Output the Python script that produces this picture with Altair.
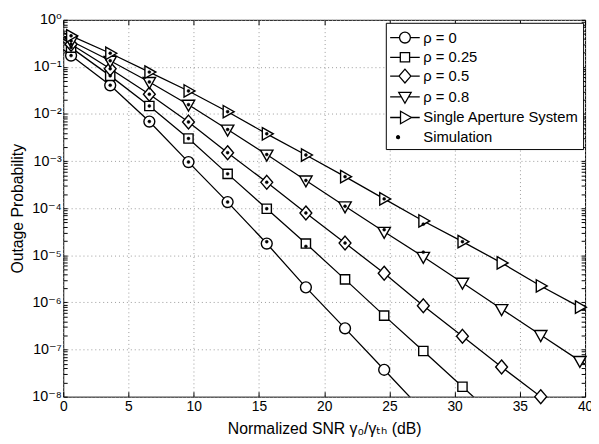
import altair as alt
import pandas as pd

# ---------------- data ----------------
snr_db = [0, 0.6, 3.6, 6.6, 9.6, 12.6, 15.6, 18.6, 21.6, 24.6, 27.6, 30.6, 33.6, 36.6, 39.6, 40]
series_names = ["ρ = 0", "ρ = 0.25", "ρ = 0.5", "ρ = 0.8", "Single Aperture System"]

p_rho0 = [0.234, 0.174, 0.0407, 6.92e-3, 9.55e-4, 1.35e-4, 1.78e-5, 2.09e-6, 2.82e-7, 3.72e-8,
          4.90e-9, None, None, None, None, None]
p_rho025 = [0.339, 0.257, 0.0646, 0.0148, 3.02e-3, 5.37e-4, 9.77e-5, 1.78e-5, 3.09e-6, 5.25e-7,
            9.33e-8, 1.62e-8, 2.82e-9, None, None, None]
p_rho05 = [0.389, 0.302, 0.0912, 0.0263, 6.76e-3, 1.51e-3, 3.55e-4, 7.94e-5, 1.82e-5, 4.17e-6,
           8.51e-7, 1.91e-7, 4.27e-8, 1.0e-8, None, None]
p_rho08 = [0.427, 0.355, 0.135, 0.0479, 0.0158, 4.68e-3, 1.38e-3, 3.89e-4, 1.10e-4, 3.16e-5,
           9.33e-6, 2.63e-6, 7.24e-7, 2.04e-7, 5.75e-8, 4.90e-8]
p_single = [0.537, 0.457, 0.195, 0.0776, 0.0309, 0.0112, 3.80e-3, 1.35e-3, 4.68e-4, 1.58e-4,
            5.37e-5, 1.95e-5, 6.92e-6, 2.24e-6, 7.94e-7, 6.92e-7]

# simulation points (same SNR grid, None = no simulation point)
sim_rho0 = [None, 0.174, 0.0407, 6.92e-3, 9.55e-4, 1.35e-4, 1.95e-5, None, None, None,
            None, None, None, None, None, None]
sim_rho025 = [None, 0.257, 0.0646, 0.0148, 3.02e-3, 5.37e-4, 9.77e-5, 1.55e-5, None, None,
              None, None, None, None, None, None]
sim_rho05 = [None, 0.302, 0.0912, 0.0263, 6.76e-3, 1.51e-3, 3.55e-4, 7.94e-5, 1.82e-5, None,
             None, None, None, None, None, None]
sim_rho08 = [None, 0.355, 0.135, 0.0479, 0.0158, 4.68e-3, 1.38e-3, 3.89e-4, 1.10e-4, 3.5e-5,
             1.17e-5, None, None, None, None, None]
sim_single = [None, 0.457, 0.195, 0.0776, 0.0309, 0.0112, 3.80e-3, 1.35e-3, 4.68e-4, 1.58e-4,
              4.6e-5, 1.95e-5, None, None, None, None]

x_ticks = [0, 5, 10, 15, 20, 25, 30, 35, 40]
y_major_labels = ["10⁰", "10⁻¹", "10⁻²", "10⁻³", "10⁻⁴", "10⁻⁵", "10⁻⁶", "10⁻⁷", "10⁻⁸"]
legend_labels = series_names + ["Simulation"]

# ---------------- styling helpers ----------------
FONT = "Liberation Sans, Arial, Helvetica, DejaVu Sans, sans-serif"

marker_paths = [
    "M 0.92 0 A 0.92 0.92 0 1 1 -0.92 0 A 0.92 0.92 0 1 1 0.92 0 Z",
    "M -0.78 -0.78 L 0.78 -0.78 L 0.78 0.78 L -0.78 0.78 Z",
    "M 0 -1.17 L 1 0 L 0 1.17 L -1 0 Z",
    "M -1.05 -0.75 L 1.05 -0.75 L 0 1.1 Z",
    "M -0.75 -1.05 L 1.1 0 L -0.75 1.05 Z",
]
legend_paths = [
    "M -1.06 0 L -0.11 0 M 0.99 0 L 1.94 0 M 0.99 0 A 0.55 0.55 0 1 1 -0.11 0 A 0.55 0.55 0 1 1 0.99 0 Z",
    "M -1.06 0 L -0.03 0 M 0.91 0 L 1.94 0 M -0.03 -0.47 L 0.91 -0.47 L 0.91 0.47 L -0.03 0.47 Z",
    "M -1.06 0 L -0.16 0 M 1.04 0 L 1.94 0 M 0.44 -0.7 L 1.04 0 L 0.44 0.7 L -0.16 0 Z",
    "M -1.06 0 L 0.065 0 M 0.815 0 L 1.94 0 M -0.19 -0.45 L 1.07 -0.45 L 0.44 0.66 Z",
    "M -1.06 0 L -0.01 0 M 1.10 0 L 1.94 0 M -0.01 -0.63 L 1.10 0 L -0.01 0.63 Z",
    "M -0.11 0 A 0.15 0.15 0 1 1 -0.41 0 A 0.15 0.15 0 1 1 -0.11 0 Z",
]
legend_fills = ["white"] * 5 + ["black"]
legend_strokes = ["black"] * 6

# ---------------- tables ----------------
all_p = [p_rho0, p_rho025, p_rho05, p_rho08, p_single]
all_sim = [sim_rho0, sim_rho025, sim_rho05, sim_rho08, sim_single]

line_rows, marker_rows, sim_rows = [], [], []
for name, vals, sims in zip(series_names, all_p, all_sim):
    for i, (x, v) in enumerate(zip(snr_db, vals)):
        if v is None:
            continue
        line_rows.append({"series": name, "snr": x, "p": v})
        if 1 <= i <= 14 and v >= 1e-8:
            marker_rows.append({"series": name, "snr": x, "p": v})
    for x, s in zip(snr_db, sims):
        if s is not None:
            sim_rows.append({"series": name, "snr": x, "p": s})

line_df = pd.DataFrame(line_rows)
marker_df = pd.DataFrame(marker_rows)
sim_df = pd.DataFrame(sim_rows)
legend_df = pd.DataFrame({"entry": legend_labels})

y_ticks = []
for e in range(-8, 0):
    for k in range(1, 10):
        y_ticks.append(float(f"{k}e{e}"))
y_ticks.append(1.0)

xscale = alt.Scale(domain=[0, 40], nice=False, zero=False)
yscale = alt.Scale(type="log", domain=[1e-8, 1], nice=False)

major_test = "abs(log(datum.value)/LN10 - round(log(datum.value)/LN10)) < 0.001"
label_arr = "[" + ",".join(f"'{s}'" for s in y_major_labels) + "]"

x_axis_bottom = alt.Axis(
    values=x_ticks, title="Normalized SNR γ₀/γₜₕ (dB)", grid=True,
    tickSize=alt.ExprRef(expr="-5"), labelPadding=8, titlePadding=7,
    labelFontSize=14, titleFontSize=16, labelFlush=False,
)
y_axis_left = alt.Axis(
    values=y_ticks, title="Outage Probability", grid=True,
    gridOpacity={"condition": {"test": major_test, "value": 1}, "value": 0},
    labelExpr=f"({major_test}) ? {label_arr}[round(-log(datum.value)/LN10)] : ''",
    tickSize=alt.ExprRef(expr="-4"), labelPadding=6, titlePadding=6,
    labelFontSize=14.5, titleFontSize=16, labelOverlap=False, labelFlush=False,
)
x_axis_top = alt.Axis(orient="top", values=x_ticks, labels=False, grid=False, title=None,
                      tickSize=alt.ExprRef(expr="-5"))
y_axis_right = alt.Axis(orient="right", values=y_ticks, labels=False, grid=False, title=None,
                        tickSize=alt.ExprRef(expr="-4"))

lines = alt.Chart(line_df).mark_line(color="black", strokeWidth=1.3, clip=True).encode(
    x=alt.X("snr:Q", scale=xscale, axis=x_axis_bottom),
    y=alt.Y("p:Q", scale=yscale, axis=y_axis_left),
    detail="series:N",
    order="snr:Q",
)

markers = alt.Chart(marker_df).mark_point(
    filled=True, fill="white", stroke="black", strokeWidth=1.4, size=144, opacity=1
).encode(
    x=alt.X("snr:Q", scale=xscale, axis=x_axis_top),
    y=alt.Y("p:Q", scale=yscale, axis=y_axis_right),
    shape=alt.Shape("series:N", scale=alt.Scale(domain=series_names, range=marker_paths), legend=None),
)

dots = alt.Chart(sim_df).mark_point(
    filled=True, fill="black", stroke="black", strokeWidth=0.5, shape="circle", size=9, opacity=1
).encode(
    x=alt.X("snr:Q", scale=xscale, axis=None),
    y=alt.Y("p:Q", scale=yscale, axis=None),
)

leg = alt.Legend(
    title=None, orient="none", legendX=327, legendY=3, symbolSize=400,
    symbolStrokeWidth=1.3, symbolStrokeColor="black", labelFontSize=15, labelFont=FONT,
    labelOffset=12, padding=4, rowPadding=0, strokeColor="black", fillColor="white",
    labelLimit=400, labelColor="black",
)
legend_layer = alt.Chart(legend_df).mark_point(
    filled=True, stroke="black", strokeWidth=1.3, opacity=1
).encode(
    shape=alt.Shape("entry:N", scale=alt.Scale(domain=legend_labels, range=legend_paths), legend=leg),
    fill=alt.Fill("entry:N", scale=alt.Scale(domain=legend_labels, range=legend_fills), legend=leg),
    stroke=alt.Stroke("entry:N", scale=alt.Scale(domain=legend_labels, range=legend_strokes), legend=leg),
).transform_filter("false")

chart = alt.layer(lines, markers, dots, legend_layer).resolve_scale(
    x="independent", y="independent", shape="independent", fill="independent", stroke="independent"
).properties(
    width=529, height=382,
    autosize=alt.AutoSizeParams(type="none"),
    padding={"left": 56, "top": 9, "right": 6, "bottom": 45},
).configure_view(
    stroke="black", strokeWidth=1
).configure_axis(
    domain=False, tickColor="black", labelColor="black", titleColor="black",
    labelFont=FONT, titleFont=FONT, titleFontWeight="normal",
    gridColor="#9a9a9a", gridDash=[1, 3], gridWidth=1, tickWidth=1,
)

chart.save("out.html", embed_options={"renderer": "svg", "actions": False})
